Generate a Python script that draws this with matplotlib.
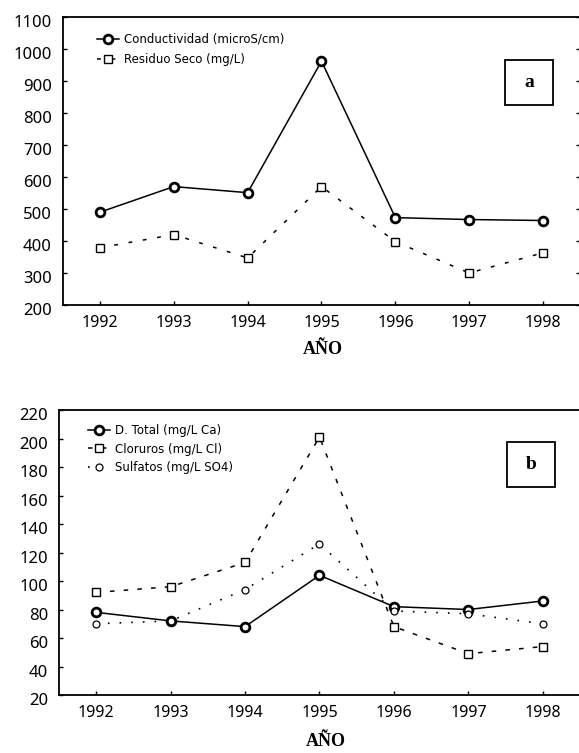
import matplotlib
matplotlib.use("Agg")
import matplotlib.pyplot as plt
from matplotlib.patches import Rectangle
from matplotlib.transforms import ScaledTranslation

years = [1992, 1993, 1994, 1995, 1996, 1997, 1998]

conductividad = [490, 570, 551, 962, 473, 467, 464]
residuo_seco = [379, 420, 347, 570, 398, 300, 363]

d_total = [78, 72, 68, 104, 82, 80, 86]
cloruros = [92, 96, 113, 201, 68, 49, 54]
sulfatos = [70, 72, 94, 126, 79, 77, 70]

yticks_a = [200, 300, 400, 500, 600, 700, 800, 900, 1000, 1100]
yticks_b = [20, 40, 60, 80, 100, 120, 140, 160, 180, 200, 220]

TICKFONT = "Noto Sans"
LEGFONT = "DejaVu Sans"
SERIF = "Liberation Serif"

fig = plt.figure(figsize=(5.79, 7.53), dpi=100)
fig.patch.set_facecolor("white")

ax1 = fig.add_axes([0.1088, 0.595, 1.0017 - 0.1088, 0.9774 - 0.595])
ax2 = fig.add_axes([0.1019, 0.077, 1.0017 - 0.1019, 0.4555 - 0.077])


def style_axis(ax, yticks, right_ticks):
    ax.set_xlim(1991.5, 1998.5)
    ax.set_ylim(yticks[0], yticks[-1])
    ax.set_xticks(years)
    ax.set_xticklabels([str(y) for y in years], fontsize=11.5, family=TICKFONT)
    ax.set_yticks(yticks)
    ax.set_yticklabels([str(v) for v in yticks], fontsize=12, family=TICKFONT)
    ax.tick_params(axis="both", direction="in", length=3, width=1, color="black")
    ax.tick_params(axis="x", pad=7, top=False)
    ax.tick_params(axis="y", pad=8, right=right_ticks)
    for lab in ax.get_yticklabels():
        lab.set_transform(lab.get_transform() + ScaledTranslation(0, -4 / 100, fig.dpi_scale_trans))
    for s in ax.spines.values():
        s.set_linewidth(1.3)
        s.set_color("black")


# Panel a
ax1.plot(years, conductividad, color="black", lw=1.1, marker="o", ms=6.3,
         mfc="white", mec="black", mew=2.0, label="Conductividad (microS/cm)")
ax1.plot(years, residuo_seco, color="black", lw=1.1, ls=(0, (2.5, 7)), marker="s", ms=5.8,
         mfc="white", mec="black", mew=1.0, label="Residuo Seco (mg/L)")
style_axis(ax1, yticks_a, True)
ax1.legend(loc="upper left", bbox_to_anchor=(0.065, 0.945), frameon=False,
           prop={"family": LEGFONT, "size": 8.5}, handlelength=1.9,
           handletextpad=0.45, labelspacing=0.6, borderpad=0, borderaxespad=0)
ax1.add_patch(Rectangle((0.855, 0.694), 0.093, 0.157, transform=ax1.transAxes,
                        fill=False, ec="black", lw=1.3))
ax1.text(0.9015, 0.7725, "a", transform=ax1.transAxes, ha="center", va="center",
         fontsize=14, fontweight="bold", family=SERIF)

# Panel b
ax2.plot(years, d_total, color="black", lw=1.1, marker="o", ms=6.3,
         mfc="white", mec="black", mew=2.0, label="D. Total (mg/L Ca)")
ax2.plot(years, cloruros, color="black", lw=1.1, ls=(0, (3, 6)), marker="s", ms=5.8,
         mfc="white", mec="black", mew=1.0, label="Cloruros (mg/L Cl)")
ax2.plot(years, sulfatos, color="black", lw=1.2, ls=(0, (1, 6)), marker="o", ms=5,
         mfc="white", mec="black", mew=0.9, label="Sulfatos (mg/L SO4)")
style_axis(ax2, yticks_b, False)
ax2.legend(loc="upper left", bbox_to_anchor=(0.055, 0.95), frameon=False,
           prop={"family": LEGFONT, "size": 8.5}, handlelength=1.9,
           handletextpad=0.45, labelspacing=0.45, borderpad=0, borderaxespad=0)
ax2.add_patch(Rectangle((0.860, 0.730), 0.092, 0.158, transform=ax2.transAxes,
                        fill=False, ec="black", lw=1.3))
ax2.text(0.906, 0.809, "b", transform=ax2.transAxes, ha="center", va="center",
         fontsize=14, fontweight="bold", family=SERIF)

fig.text(323 / 579, 1 - 350 / 753, "AÑO", ha="center", va="center",
         fontsize=13, fontweight="bold", family=SERIF)
fig.text(326 / 579, 1 - 742 / 753, "AÑO", ha="center", va="center",
         fontsize=13, fontweight="bold", family=SERIF)

fig.savefig("out.png", dpi=100, facecolor="white")
